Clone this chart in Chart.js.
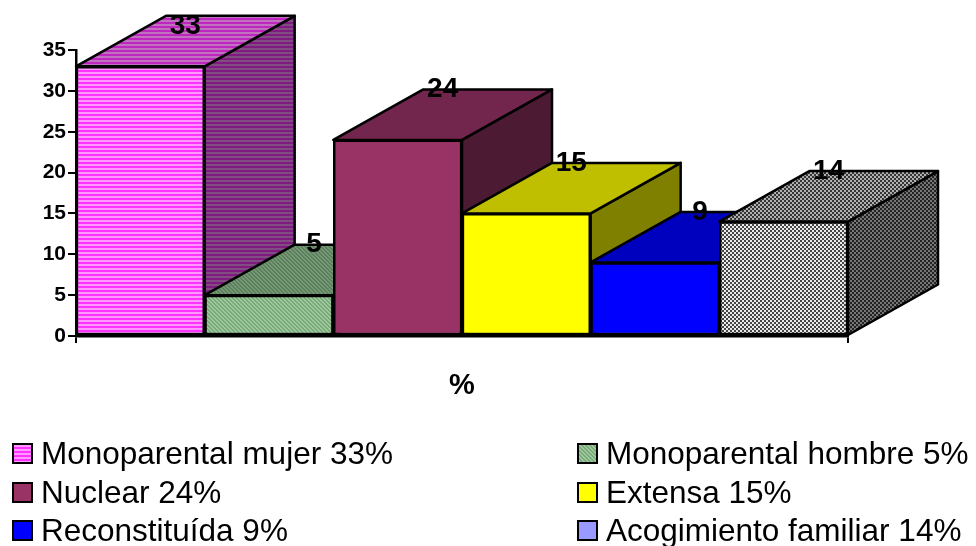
<!DOCTYPE html>
<html>
<head>
<meta charset="utf-8">
<script src="https://cdn.jsdelivr.net/npm/chart.js@4"></script>
<style>
    html, body { margin: 0; background: #fff; }
    #wrap { position: relative; width: 976px; height: 546px; overflow: hidden; }
    #legend span { position: absolute; white-space: nowrap; font: 31.5px "Liberation Sans", Arial, sans-serif; color: #000; line-height: 32px; }
    #legend i { position: absolute; box-sizing: border-box; width: 21px; height: 21px; border: 2.5px solid #000; }
</style>
</head>
<body>
<div id="wrap">
    <canvas id="chart" width="976" height="546"></canvas>
    <div id="legend"></div>
</div>
<script>
// ─── Data ─────────────────────────────────────────────────────────────────────

const categories = ['%'];
const seriesNames = ['Monoparental mujer', 'Monoparental hombre', 'Nuclear', 'Extensa', 'Reconstituída', 'Acogimiento familiar'];
const seriesValues = [33, 5, 24, 15, 9, 14];
const yMax = 35;
const yStep = 5;

// ─── Fills ────────────────────────────────────────────────────────────────────

const depthX = 90;
const depthY = 50.5;

const barFills = [
    { kind: 'stripes', a: [255, 51, 255], b: [255, 153, 255] },
    { kind: 'diagonal', a: [120, 170, 120], b: [160, 200, 160] },
    { kind: 'solid', a: [153, 51, 102] },
    { kind: 'solid', a: [255, 255, 0] },
    { kind: 'solid', a: [0, 0, 255] },
    { kind: 'checker', a: [235, 235, 235], b: [70, 70, 70] },
];
const legendFills = [barFills[0], barFills[1], barFills[2], barFills[3], barFills[4], { kind: 'solid', a: [153, 153, 255] }];

function makeTile(fill, shade) {
    const rgb = c => `rgb(${c.map(v => Math.round(v * shade)).join(',')})`;
    const tile = document.createElement('canvas');
    tile.width = tile.height = 4;
    const c = tile.getContext('2d');
    c.fillStyle = rgb(fill.a);
    c.fillRect(0, 0, 4, 4);
    if (fill.kind === 'solid') return tile;
    c.fillStyle = rgb(fill.b);
    if (fill.kind === 'stripes') {
        c.fillRect(0, 0, 4, 2);
    } else if (fill.kind === 'checker') {
        c.fillRect(0, 0, 2, 2);
        c.fillRect(2, 2, 2, 2);
    } else {
        for (let i = 0; i < 4; i++) {
            c.fillRect(i, i, 1, 1);
            c.fillRect((i + 1) % 4, i, 1, 1);
        }
    }
    return tile;
}

const ctx = document.getElementById('chart').getContext('2d');
const pattern = (fill, shade) => ctx.createPattern(makeTile(fill, shade), 'repeat');

// ─── 3D bars ──────────────────────────────────────────────────────────────────

class Bar3d extends Chart.BarController {
    draw() {
        const c = this.chart.ctx;
        const fill = barFills[this.index];
        this.getMeta().data.forEach(bar => {
            const { x, y, base, width } = bar.getProps(['x', 'y', 'base', 'width'], true);
            const left = x - width / 2;
            const right = x + width / 2;
            const face = (points, style) => {
                c.beginPath();
                points.forEach(([px, py], i) => (i ? c.lineTo(px, py) : c.moveTo(px, py)));
                c.closePath();
                c.fillStyle = style;
                c.fill();
                c.stroke();
            };
            c.save();
            c.strokeStyle = '#000';
            c.lineWidth = 2.5;
            c.lineJoin = 'round';
            face([[right, y], [right + depthX, y - depthY], [right + depthX, base - depthY], [right, base]], pattern(fill, 0.5));
            face([[left, y], [left + depthX, y - depthY], [right + depthX, y - depthY], [right, y]], pattern(fill, 0.75));
            c.restore();
            bar.draw(c);
        });
    }
}
Bar3d.id = 'bar3d';
Bar3d.defaults = Chart.BarController.defaults;
Chart.register(Bar3d);

// Painter's order: left bars first, and the value labels on top of everything
const bar3dPlugin = {
    id: 'bar3dOrder',
    beforeDatasetsDraw(chart) {
        chart.getSortedVisibleDatasetMetas().forEach(m => m.controller.draw());
        return false;
    },
    afterDraw(chart) {
        const c = chart.ctx;
        c.save();
        c.font = 'bold 28px "Liberation Sans", Arial, sans-serif';
        c.fillStyle = '#000';
        c.textAlign = 'center';
        c.textBaseline = 'middle';
        chart.getSortedVisibleDatasetMetas().forEach(m => {
            const bar = m.data[0];
            c.fillText(seriesValues[m.index], bar.x + depthX / 2, Math.max(26, bar.y - depthY));
        });
        c.restore();
    },
};

new Chart(ctx, {
    type: 'bar3d',
    data: {
        labels: categories,
        datasets: seriesNames.map((name, i) => ({
            label: name,
            data: [seriesValues[i]],
            backgroundColor: pattern(barFills[i], 1),
            borderColor: '#000',
            borderWidth: 2.5,
            borderSkipped: false,
            barPercentage: 1,
            categoryPercentage: 1,
            clip: false,
        })),
    },
    plugins: [bar3dPlugin],
    options: {
        responsive: false,
        animation: false,
        layout: { padding: { top: 50, right: 128 } },
        plugins: { legend: { display: false }, tooltip: { enabled: false } },
        scales: {
            x: {
                afterFit: s => { s.height = 210; },
                border: { color: '#000', width: 2.5 },
                grid: { offset: true, drawOnChartArea: false, color: '#000', lineWidth: 2, tickLength: 7 },
                ticks: { color: '#000', padding: 26, font: { family: '"Liberation Sans"', size: 29, weight: 'bold' } },
            },
            y: {
                min: 0,
                max: yMax,
                afterFit: s => { s.width = 76; },
                border: { color: '#000', width: 2.5 },
                grid: { drawOnChartArea: false, color: '#000', lineWidth: 2, tickLength: 8 },
                ticks: { stepSize: yStep, color: '#000', padding: 2, font: { family: '"Liberation Sans"', size: 21, weight: 'bold' } },
            },
        },
    },
});

// ─── Legend ───────────────────────────────────────────────────────────────────

const legendBox = document.getElementById('legend');
seriesNames.forEach((name, i) => {
    const col = i % 2;
    const row = Math.floor(i / 2);
    const top = 443 + row * 38.5;
    const swatch = document.createElement('i');
    swatch.style.left = (col ? 577 : 12) + 'px';
    swatch.style.top = top + 'px';
    swatch.style.backgroundImage = `url(${makeTile(legendFills[i], 1).toDataURL()})`;
    const text = document.createElement('span');
    text.textContent = `${name} ${seriesValues[i]}%`;
    text.style.left = (col ? 606 : 41) + 'px';
    text.style.top = (top - 6) + 'px';
    legendBox.append(swatch, text);
});
</script>
</body>
</html>
